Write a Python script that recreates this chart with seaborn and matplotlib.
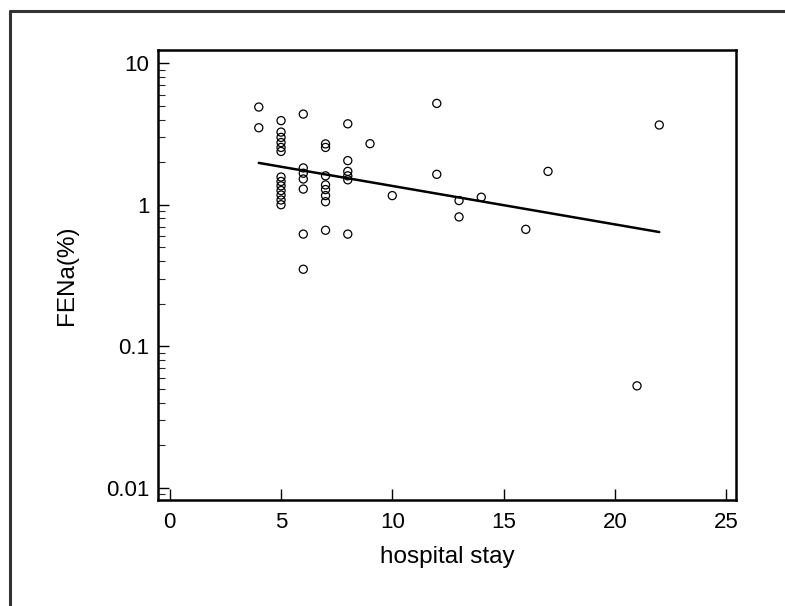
import numpy as np
import pandas as pd
import seaborn as sns
import matplotlib.pyplot as plt
from matplotlib.lines import Line2D
from matplotlib.ticker import LogLocator, NullFormatter, FixedLocator, FixedFormatter

# hospital stay (days) and FENa (%)
stay = [4, 4,
        5, 5, 5, 5, 5, 5, 5, 5, 5, 5, 5, 5, 5,
        6, 6, 6, 6, 6, 6, 6,
        7, 7, 7, 7, 7, 7, 7, 7,
        8, 8, 8, 8, 8, 8,
        9, 10, 12, 12, 13, 13, 14, 16, 17, 21, 22]
fena = [4.9, 3.5,
        3.93, 3.26, 2.99, 2.75, 2.54, 2.38, 1.57, 1.46, 1.36, 1.26, 1.17, 1.08, 1.0,
        4.37, 1.82, 1.67, 1.52, 1.29, 0.62, 0.35,
        2.69, 2.54, 1.60, 1.38, 1.28, 1.16, 1.05, 0.66,
        3.73, 2.05, 1.72, 1.60, 1.50, 0.62,
        2.70, 1.16, 5.2, 1.64, 1.07, 0.82, 1.13, 0.67, 1.72, 0.0525, 3.66]

x_ticks = [0, 5, 10, 15, 20, 25]
y_ticks = [0.01, 0.1, 1, 10]
y_tick_labels = ["0.01", "0.1", "1", "10"]

df = pd.DataFrame({"stay": stay, "fena": fena})

# log-linear regression line over the observed range
slope, icpt = np.polyfit(df["stay"], np.log10(df["fena"]), 1)
fit = pd.DataFrame({"stay": [min(stay), max(stay)]})
fit["fena"] = 10 ** (icpt + slope * fit["stay"])

sns.set_style("ticks")
plt.rcParams["font.family"] = ["Liberation Sans", "DejaVu Sans"]
plt.rcParams["text.color"] = "black"
plt.rcParams["axes.labelcolor"] = "black"

fig = plt.figure(figsize=(7.85, 6.06), dpi=100)
ax = fig.add_axes([0.201, 0.175, 0.7366, 0.7425])

sns.scatterplot(data=df, x="stay", y="fena", ax=ax, marker="o", s=34,
                facecolor="none", edgecolor="black", linewidth=0.9, zorder=3)
sns.lineplot(data=fit, x="stay", y="fena", ax=ax, color="black", linewidth=1.8)

ax.set_yscale("log")
ax.set_xlim(-0.54, 25.45)
ax.set_ylim(0.0082, 12.4)

ax.xaxis.set_major_locator(FixedLocator(x_ticks))
ax.yaxis.set_major_locator(FixedLocator(y_ticks))
ax.yaxis.set_major_formatter(FixedFormatter(y_tick_labels))
ax.yaxis.set_minor_locator(LogLocator(base=10, subs=np.arange(2, 10)))
ax.yaxis.set_minor_formatter(NullFormatter())

ax.tick_params(axis="both", which="major", direction="in", length=8, width=1,
               labelsize=16, colors="black")
ax.tick_params(axis="x", pad=9)
ax.tick_params(axis="y", pad=6)
ax.tick_params(axis="y", which="minor", direction="in", length=5, width=0.8)

for side in ax.spines.values():
    side.set_linewidth(1.8)
    side.set_color("black")

ax.set_xlabel("hospital stay", fontsize=17.5, labelpad=9)
ax.set_ylabel("FENa(%)", fontsize=17.5, labelpad=20)

# outer frame (top and left edges only visible)
fig.add_artist(Line2D([0.0127, 1.0], [0.982, 0.982], transform=fig.transFigure,
                      color="#333333", linewidth=2.2))
fig.add_artist(Line2D([0.0127, 0.0127], [0.0, 0.982], transform=fig.transFigure,
                      color="#333333", linewidth=2.2))

fig.savefig("out.png", dpi=100, facecolor="white")
